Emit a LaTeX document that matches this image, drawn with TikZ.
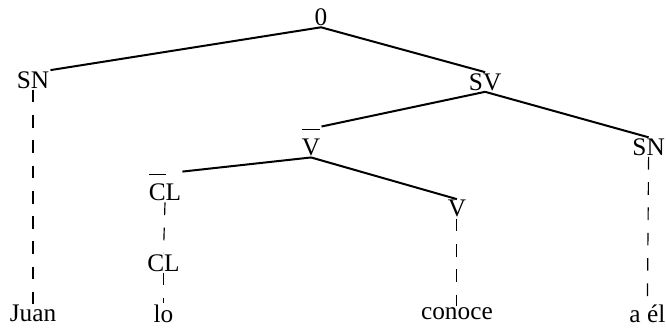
\documentclass[tikz,border=0pt]{standalone}
\usepackage{amsmath}
\usepackage{fontspec}
\setmainfont{Liberation Serif}
\usepackage{tikz}
\usetikzlibrary{positioning}

\newcommand{\barra}[1]{$\overline{\hbox{\rule{0pt}{0.9em}#1}}$}

\begin{document}
\begin{tikzpicture}[every node/.style={font=\fontsize{24}{27}\selectfont, inner sep=1pt},
                    rama/.style={line width=1.9pt},
                    traza/.style={line width=1.1pt, dash pattern=on 12pt off 12pt}]
            \useasboundingbox (0,0) rectangle (22.2,10.933);
            % Nodos
            \node (o) at (10.70,10.35) {0};
            \node (sn) at (1.10,8.27) {SN};
            \node (sv) at (16.17,8.20) {SV};
            \node (vb) at (10.37,6.20) {\barra{V}};
            \node (sn2) at (21.62,6.03) {SN};
            \node (clb) at (5.50,4.70) {\barra{C}L};
            \node (v) at (15.23,3.97) {V};
            \node (cl) at (5.45,2.17) {CL};
            \node (juan) at (1.10,0.48) {Juan};
            \node (lo) at (5.45,0.48) {lo};
            \node (conoce) at (15.23,0.48) {conoce};
            \node (el) at (21.58,0.48) {a él};

            % Aristas
            \draw[rama] (o.south) -- (sn.north east);
            \draw[rama] (o.south) -- (sv.north);
            \draw[rama] (sv.south) -- (vb.north east);
            \draw[rama] (sv.south) -- (sn2.north);
            \draw[rama] (vb.south) -- (clb.north east);
            \draw[rama] (vb.south) -- (v.north);
            \draw[traza] (sn.south) -- (juan.north);
            \draw[traza] (clb.south) -- (cl.north);
            \draw[traza] (cl.south) -- (lo.north);
            \draw[traza] (v.south) -- (conoce.north);
            \draw[traza] (sn2.south) -- (el.north);
          \end{tikzpicture}
\end{document}
